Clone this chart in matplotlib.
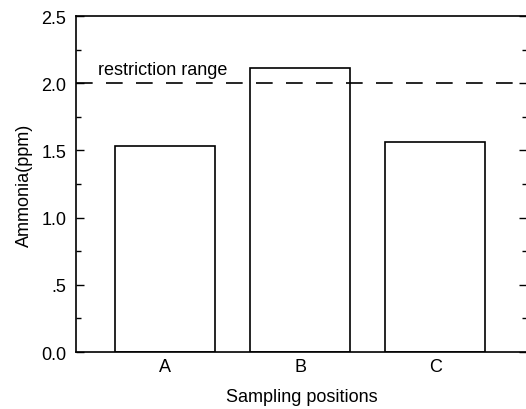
import matplotlib.pyplot as plt
from matplotlib.ticker import MultipleLocator, FixedLocator, FixedFormatter

# Données
positions = ["A", "B", "C"]
ammonia = [1.53, 2.11, 1.56]
limite = 2.0
yticks = [0.0, 0.5, 1.0, 1.5, 2.0, 2.5]
ytick_labels = ["0.0", ".5", "1.0", "1.5", "2.0", "2.5"]

plt.rcParams['font.family'] = ['Liberation Sans', 'DejaVu Sans']
fs = 13

fig = plt.figure(figsize=(5.26, 4.10), dpi=100)
# le cadre de droite est coupé dans l'original : l'axe dépasse un peu la figure
ax = fig.add_axes([0.1445, 0.139, 0.8575, 0.8195])

x = range(len(positions))
ax.bar(x, ammonia, width=0.74, color="white", edgecolor="black", linewidth=1.2)
ax.axhline(limite, color="black", linestyle=(0, (10, 8)), linewidth=1.2)
ax.text(-0.5, limite + 0.04, "restriction range", fontsize=fs, ha="left", va="bottom")

ax.set_xlim(-0.66, 2.68)
ax.set_ylim(0, 2.5)
ax.set_xticks(list(x))
ax.set_xticklabels(positions, fontsize=fs)
ax.tick_params(axis="x", length=0, pad=4)

ax.yaxis.set_major_locator(FixedLocator(yticks))
ax.yaxis.set_major_formatter(FixedFormatter(ytick_labels))
ax.yaxis.set_minor_locator(MultipleLocator(0.25))
ax.tick_params(axis="y", which="major", direction="in", length=6, width=1,
               left=True, right=True, labelsize=fs, pad=7)
ax.tick_params(axis="y", which="minor", direction="in", length=3.5, width=1,
               left=True, right=True)

ax.set_xlabel("Sampling positions", fontsize=fs, labelpad=10)
ax.set_ylabel("Ammonia(ppm)", fontsize=fs, labelpad=6)

for s in ax.spines.values():
    s.set_linewidth(1.2)

fig.savefig("out.png", dpi=100)
